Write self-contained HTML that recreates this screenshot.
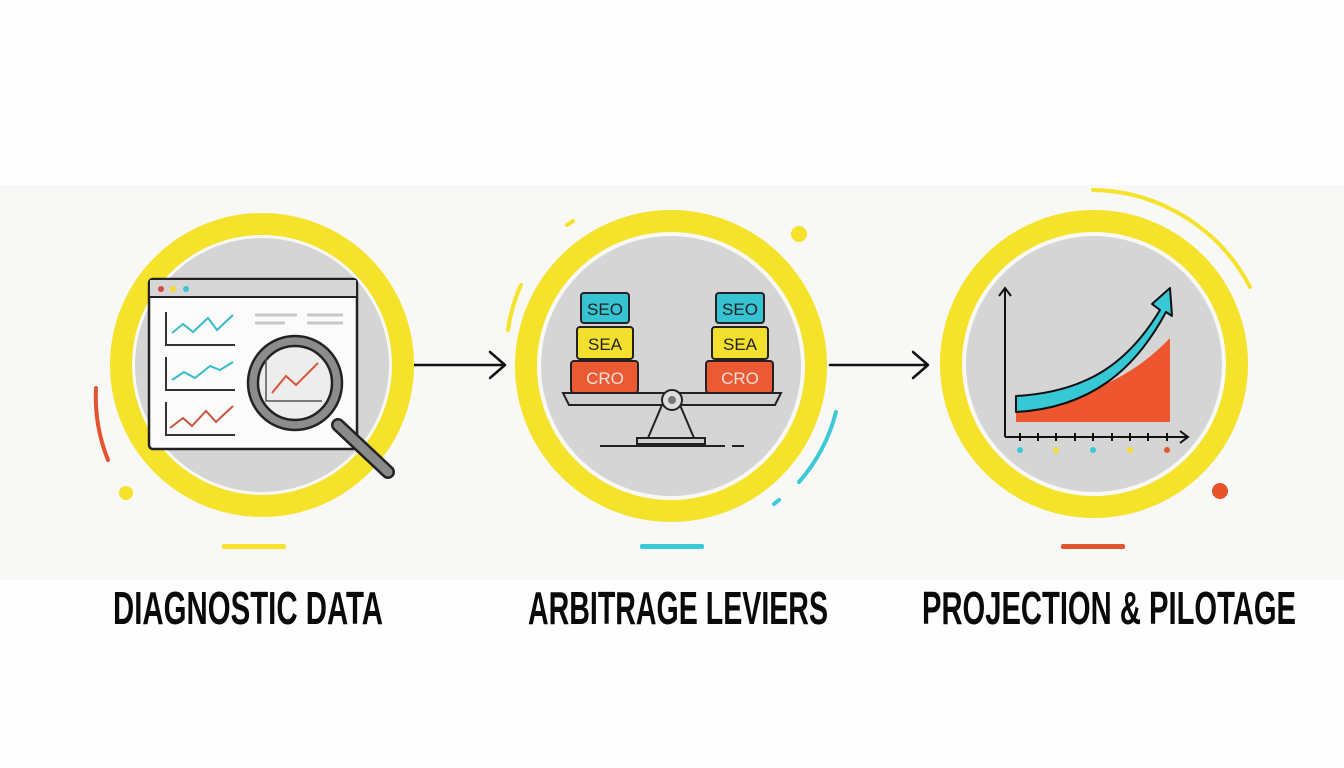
<!DOCTYPE html>
<html><head><meta charset="utf-8"><style>
html,body{margin:0;padding:0;background:#fefefe;}
svg{display:block}
</style></head><body>
<svg width="1344" height="768" viewBox="0 0 1344 768" xmlns="http://www.w3.org/2000/svg">
<rect width="1344" height="768" fill="#fefefe"/>
<rect x="0" y="185" width="1344" height="395" fill="#f8f8f6"/>
<!-- arrows -->
<g stroke="#111" stroke-width="2.5" fill="none" stroke-linecap="round" stroke-linejoin="round">
<line x1="412" y1="365" x2="504" y2="365"/><polyline points="490,352 505,365 490,378"/>
<line x1="830" y1="365" x2="927" y2="365"/><polyline points="913,352 928,365 913,378"/>
</g>
<!-- circle 1 -->
<circle cx="262" cy="365" r="141" fill="none" stroke="#f5e22a" stroke-width="22"/>
<circle cx="262" cy="365" r="127" fill="#d5d5d5"/>
<path d="M96,388 A170,170 0 0 0 108,460" stroke="#e4542f" stroke-width="4" fill="none" stroke-linecap="round"/>
<circle cx="126" cy="493" r="7" fill="#f5e22a"/>
<rect x="222" y="544" width="64" height="5" rx="2" fill="#f5e22a"/>
<rect x="149" y="279" width="208" height="170" rx="4" fill="#fbfbfb" stroke="#222" stroke-width="2.5"/>
<rect x="150" y="280" width="206" height="17" fill="#d6d6d6"/>
<line x1="149" y1="297" x2="357" y2="297" stroke="#222" stroke-width="2"/>
<circle cx="161" cy="289" r="3" fill="#d9473b"/><circle cx="173" cy="289" r="3" fill="#f3dc2a"/><circle cx="186" cy="289" r="3" fill="#3cc4cf"/>
<g fill="none" stroke-width="2">
<polyline points="166,312 166,345 235,345" stroke="#333"/>
<polyline points="172,333 183,324 193,332 208,318 217,330 233,315" stroke="#36bcc8"/>
<polyline points="166,357 166,390 235,390" stroke="#333"/>
<polyline points="172,380 184,372 195,378 210,366 220,370 233,362" stroke="#36bcc8"/>
<polyline points="166,402 166,435 235,435" stroke="#333"/>
<polyline points="170,428 183,418 192,426 206,411 216,422 233,406" stroke="#c6553b"/>
<line x1="255" y1="315" x2="297" y2="315" stroke="#c8c8c8" stroke-width="3"/>
<line x1="307" y1="315" x2="343" y2="315" stroke="#c8c8c8" stroke-width="3"/>
<line x1="255" y1="323" x2="285" y2="323" stroke="#c8c8c8" stroke-width="3"/>
<line x1="307" y1="323" x2="343" y2="323" stroke="#c8c8c8" stroke-width="3"/>
</g>
<line x1="338" y1="425" x2="388" y2="472" stroke="#222" stroke-width="14" stroke-linecap="round"/>
<line x1="338" y1="425" x2="388" y2="472" stroke="#8a8a8a" stroke-width="9" stroke-linecap="round"/>
<circle cx="295" cy="383" r="47" fill="#8c8c8c" stroke="#222" stroke-width="2.5"/>
<circle cx="295" cy="383" r="37" fill="#ededed" stroke="#222" stroke-width="2.5"/>
<polyline points="266,358 266,401 322,401" fill="none" stroke="#555" stroke-width="1.5"/>
<polyline points="272,393 286,376 296,385 318,363" fill="none" stroke="#d6553a" stroke-width="2"/>
<!-- circle 2 -->
<circle cx="671" cy="366" r="145" fill="none" stroke="#f5e22a" stroke-width="22"/>
<circle cx="671" cy="366" r="130" fill="#d5d5d5"/>
<path d="M521,285 A160,160 0 0 0 508,330" stroke="#f5e22a" stroke-width="4" fill="none" stroke-linecap="round"/>
<line x1="567" y1="225" x2="573" y2="221" stroke="#f5e22a" stroke-width="4" stroke-linecap="round"/>
<circle cx="799" cy="234" r="8" fill="#f5e22a"/>
<path d="M836,412 A170,170 0 0 1 799,482" stroke="#3cc9d6" stroke-width="4" fill="none" stroke-linecap="round"/>
<line x1="774" y1="504" x2="779" y2="500" stroke="#3cc9d6" stroke-width="4" stroke-linecap="round"/>
<rect x="640" y="544" width="64" height="5" rx="2" fill="#3cc9d6"/>
<g font-family="Liberation Sans, sans-serif" font-size="17" text-anchor="middle" stroke="#222" stroke-width="2">
<rect x="581" y="293" width="48" height="30" rx="3" fill="#37c3d1"/>
<rect x="577" y="327" width="56" height="32" rx="3" fill="#f3df2e"/>
<rect x="571" y="361" width="67" height="32" rx="3" fill="#ec5a34"/>
<rect x="716" y="293" width="48" height="30" rx="3" fill="#37c3d1"/>
<rect x="712" y="327" width="56" height="32" rx="3" fill="#f3df2e"/>
<rect x="706" y="361" width="67" height="32" rx="3" fill="#ec5a34"/>
<g stroke="none">
<text x="605" y="315" fill="#222">SEO</text><text x="605" y="350" fill="#222">SEA</text><text x="605" y="384" fill="#f3e0d8">CRO</text>
<text x="740" y="315" fill="#222">SEO</text><text x="740" y="350" fill="#222">SEA</text><text x="740" y="384" fill="#f3e0d8">CRO</text>
</g>
</g>
<path d="M563,393 L781,393 L775,405 L569,405 Z" fill="#cfcfcf" stroke="#222" stroke-width="2"/>
<path d="M662,405 L648,438 L694,438 L680,405" fill="none" stroke="#222" stroke-width="2"/>
<rect x="637" y="438" width="68" height="6" fill="#cfcfcf" stroke="#222" stroke-width="2"/>
<line x1="600" y1="446" x2="725" y2="446" stroke="#222" stroke-width="2"/>
<line x1="732" y1="446" x2="744" y2="446" stroke="#222" stroke-width="2"/>
<circle cx="672" cy="400" r="10" fill="#ddd" stroke="#222" stroke-width="2"/>
<circle cx="672" cy="400" r="4" fill="#777"/>
<!-- circle 3 -->
<circle cx="1094" cy="364" r="143" fill="none" stroke="#f5e22a" stroke-width="22"/>
<circle cx="1094" cy="364" r="128" fill="#d5d5d5"/>
<path d="M1093,190 A180,180 0 0 1 1250,287" stroke="#f5e22a" stroke-width="4" fill="none" stroke-linecap="round"/>
<circle cx="1220" cy="491" r="8" fill="#e8532c"/>
<rect x="1061" y="544" width="64" height="5" rx="2" fill="#e4542f"/>
<path d="M1016,415 L1016,405 C1080,400 1130,380 1170,338 L1170,422 L1016,422 Z" fill="#ee5630"/>
<path d="M1016,396 C1090,392 1130,360 1160,310 L1152,304 L1170,288 L1172,316 L1166,312 C1135,370 1090,408 1016,412 Z" fill="#37c8d6" stroke="#111" stroke-width="2" stroke-linejoin="round"/>
<g stroke="#111" stroke-width="2" fill="none">
<line x1="1005" y1="437" x2="1005" y2="288"/><polyline points="999,296 1005,288 1011,296"/>
<line x1="1005" y1="437" x2="1188" y2="437"/><polyline points="1180,431 1188,437 1180,443"/>
<path d="M1020,433v8M1038,433v8M1056,433v8M1075,433v8M1093,433v8M1112,433v8M1130,433v8M1148,433v8M1167,433v8"/>
</g>
<circle cx="1020" cy="450" r="3" fill="#3cc9d6"/><circle cx="1056" cy="450" r="3" fill="#f3df2e"/><circle cx="1093" cy="450" r="3" fill="#3cc9d6"/><circle cx="1130" cy="450" r="3" fill="#f3df2e"/><circle cx="1167" cy="450" r="3" fill="#e4542f"/>
<!-- labels -->
<g font-family="Liberation Sans, sans-serif" font-weight="bold" font-size="46" fill="#0a0a0a">
<text x="113" y="624" textLength="270" lengthAdjust="spacingAndGlyphs">DIAGNOSTIC DATA</text>
<text x="528" y="624" textLength="300" lengthAdjust="spacingAndGlyphs">ARBITRAGE LEVIERS</text>
<text x="922" y="624" textLength="374" lengthAdjust="spacingAndGlyphs">PROJECTION &amp; PILOTAGE</text>
</g>
</svg>
</body></html>
